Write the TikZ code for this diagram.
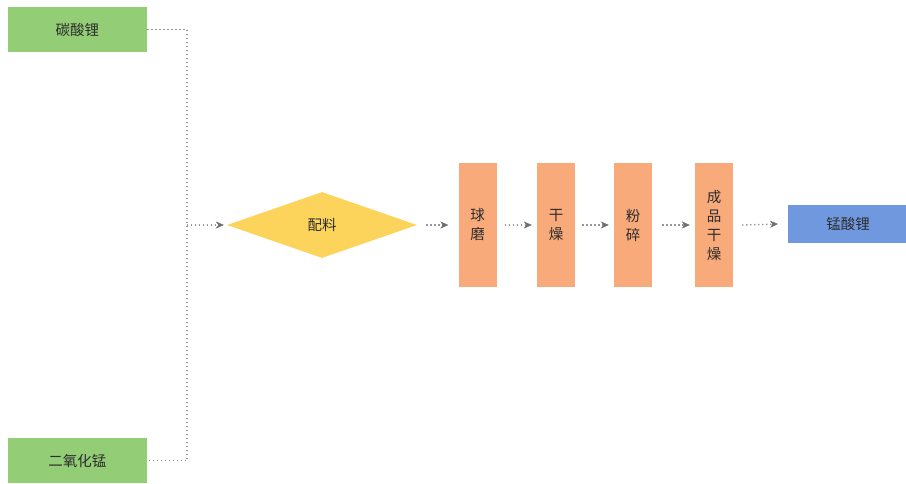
\documentclass[tikz,border=0pt]{standalone}
\usepackage{fontspec}
\setmainfont{Noto Sans CJK SC}
\usetikzlibrary{shapes.geometric,arrows.meta}
\definecolor{gbox}{RGB}{147,205,118}
\definecolor{obox}{RGB}{248,170,122}
\definecolor{ydia}{RGB}{252,212,92}
\definecolor{bbox}{RGB}{112,152,222}
\definecolor{txt}{RGB}{45,45,45}
\definecolor{lne}{RGB}{150,150,150}
\definecolor{tip}{RGB}{110,110,110}
\tikzset{
  x=1pt,y=-1pt,
  every node/.style={font=\fontsize{14.5}{19}\selectfont,text=txt},
  greenbox/.style={draw=none,fill=gbox,minimum width=139pt,minimum height=45pt,inner sep=0pt},
  orangebox/.style={draw=none,fill=obox,minimum width=38pt,minimum height=124pt,inner sep=0pt,align=center},
  bluebox/.style={draw=none,fill=bbox,minimum width=120pt,minimum height=38pt,inner sep=0pt},
  decision/.style={diamond,draw=none,fill=ydia,minimum width=190pt,minimum height=66pt,inner sep=0pt,aspect=2.9},
  link/.style={draw=lne,line width=1.3pt,dash pattern=on 1.3pt off 2.7pt},
  flow/.style={link,-{Stealth[length=8pt,width=7pt,color=tip,fill=tip,line width=0.4pt]}}
}
\begin{document}
\begin{tikzpicture}
\useasboundingbox (0,0) rectangle (906,483);
\node[greenbox] (li) at (77.5,29.5) {碳酸锂};
\node[greenbox] (mn) at (77.5,460.5) {二氧化锰};
\node[decision] (mix) at (322,225) {配料};
\node[orangebox] (ball) at (477.5,225) {球\\磨};
\node[orangebox] (dry) at (556,225) {干\\燥};
\node[orangebox] (mill) at (633,225) {粉\\碎};
\node[orangebox] (fdry) at (714,225) {成\\品\\干\\燥};
\begin{scope}
\clip (0,0) rectangle (906,483);
\node[bluebox,anchor=west] (prod) at (788,224) {锰酸锂};
\end{scope}
\coordinate (j1) at (187,29.5);
\coordinate (j2) at (187,460.5);
\coordinate (jm) at (187,225);
\draw[link] (li.east) -- (j1) -- (j2) -- (mn.east);
\draw[flow] (jm) -- ([xshift=-3pt]mix.west);
\draw[flow] ([xshift=9pt]mix.east) -- ([xshift=-10pt]ball.west);
\draw[flow] ([xshift=8pt]ball.east) -- ([xshift=-5pt]dry.west);
\draw[flow] ([xshift=7pt]dry.east) -- ([xshift=-5pt]mill.west);
\draw[flow] ([xshift=10pt]mill.east) -- ([xshift=-5pt]fdry.west);
\draw[flow] ([xshift=9pt]fdry.east) -- ([xshift=-10pt]prod.west);
\end{tikzpicture}
\end{document}
